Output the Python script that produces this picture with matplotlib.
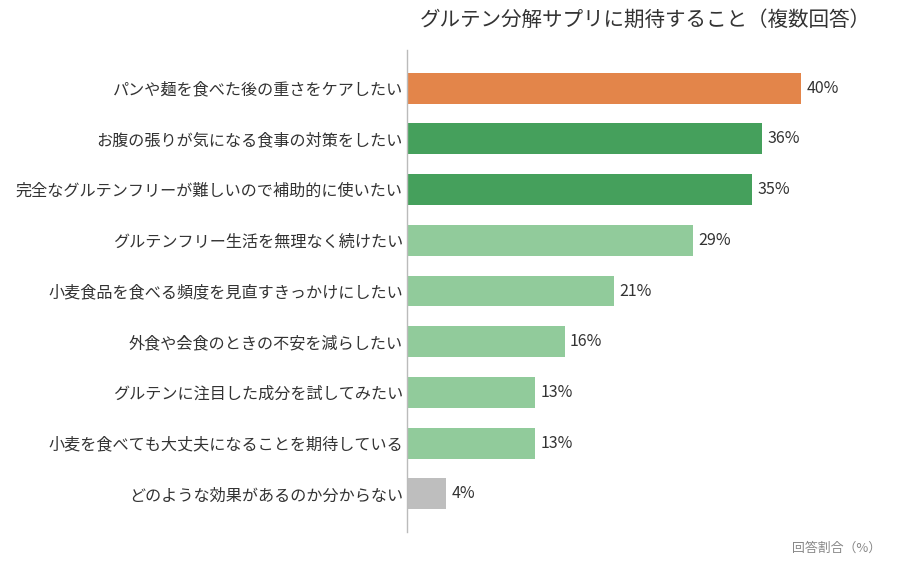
import matplotlib
matplotlib.use("Agg")
import matplotlib.pyplot as plt

plt.rcParams['font.family'] = ['Noto Sans CJK JP', 'DejaVu Sans']

title = "グルテン分解サプリに期待すること（複数回答）"
categories = [
    "パンや麺を食べた後の重さをケアしたい",
    "お腹の張りが気になる食事の対策をしたい",
    "完全なグルテンフリーが難しいので補助的に使いたい",
    "グルテンフリー生活を無理なく続けたい",
    "小麦食品を食べる頻度を見直すきっかけにしたい",
    "外食や会食のときの不安を減らしたい",
    "グルテンに注目した成分を試してみたい",
    "小麦を食べても大丈夫になることを期待している",
    "どのような効果があるのか分からない",
]
values = [40, 36, 35, 29, 21, 16, 13, 13, 4]
colors = ["#E3854A", "#45A05C", "#45A05C", "#91CB9B", "#91CB9B",
          "#91CB9B", "#91CB9B", "#91CB9B", "#BEBEBE"]
axis_note = "回答割合（%）"

W, H = 899, 561
fig = plt.figure(figsize=(W / 100, H / 100), dpi=100)
ax_left, ax_right = 407, 880
ax_top, ax_bottom = 50, 532
ax = fig.add_axes([ax_left / W, 1 - ax_bottom / H,
                   (ax_right - ax_left) / W, (ax_bottom - ax_top) / H])

ypos = list(range(len(categories)))
ax.barh(ypos, values, height=0.61, color=colors)
ax.set_ylim(len(categories) - 0.25, -0.75)
ax.set_xlim(0, (ax_right - ax_left) / 9.85)

for y, v in zip(ypos, values):
    ax.text(v + 0.55, y, f"{v}%", va="center", ha="left",
            fontsize=11.5, color="#333333")

ax.set_yticks(ypos)
ax.set_yticklabels(categories, fontsize=11.6, color="#333333")
ax.tick_params(axis="y", length=0, pad=3)
ax.set_xticks([])
for s in ["top", "right", "bottom"]:
    ax.spines[s].set_visible(False)
ax.spines["left"].set_color("#BBBBBB")
ax.spines["left"].set_linewidth(1)

fig.text(645 / W, 1 - 20 / H, title, ha="center", va="center",
         fontsize=14.8, color="#333333")
fig.text(881 / W, 1 - 548 / H, axis_note, ha="right", va="center",
         fontsize=9.3, color="#888888")

fig.savefig("out.png", dpi=100)
